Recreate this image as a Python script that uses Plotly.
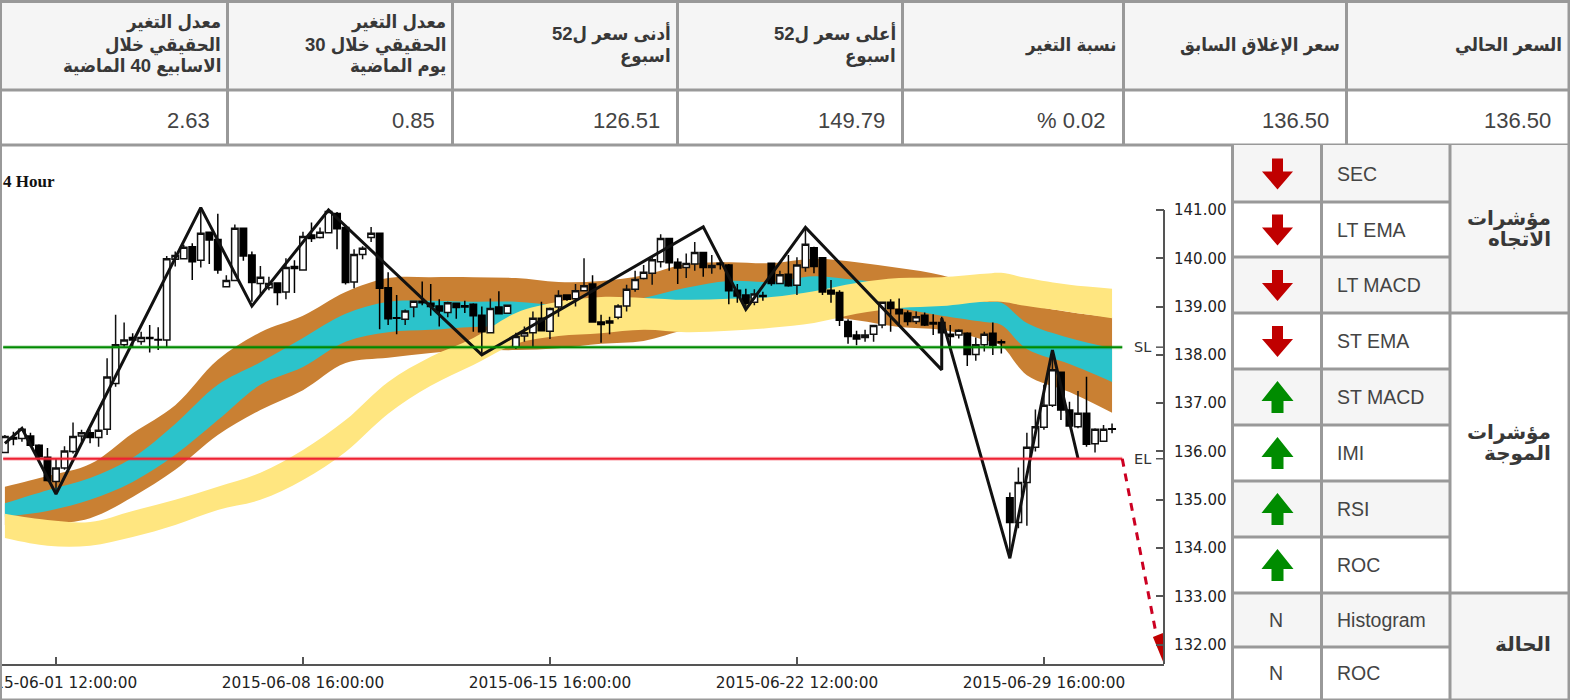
import plotly.graph_objects as go

# ---------- data ----------
header_lines = [
    ["معدل التغير", "الحقيقي خلال", "الاسابيع 40 الماضية"],
    ["معدل التغير", "الحقيقي خلال 30", "يوم الماضية"],
    ["أدنى سعر ل52", "اسبوع"],
    ["أعلى سعر ل52", "اسبوع"],
    ["نسبة التغير"],
    ["سعر الإغلاق السابق"],
    ["السعر الحالي"],
]
value_texts = ["2.63", "0.85", "126.51", "149.79", "% 0.02", "136.50", "136.50"]

indicator_names = ["SEC", "LT EMA", "LT MACD", "ST EMA", "ST MACD", "IMI", "RSI", "ROC", "Histogram", "ROC"]
indicator_states = ["down", "down", "down", "down", "up", "up", "up", "up", "N", "N"]
group_lines = [["مؤشرات", "الاتجاه"], ["مؤشرات", "الموجة"], ["الحالة"]]

opens = [135.98,136.29,136.27,136.32,136.13,135.88,135.38,135.66,136.00,136.32,
         136.39,136.29,136.46,137.41,138.21,138.36,138.28,138.36,138.32,138.31,
         139.98,139.99,140.24,139.96,140.54,140.39,139.41,139.54,140.62,140.07,
         139.48,139.39,139.49,139.30,139.83,139.76,140.48,140.43,140.53,140.93,
         140.64,139.51,140.08,140.43,140.52,139.39,138.77,138.74,138.99,139.11,
         139.07,139.01,138.88,139.07,139.02,139.05,138.82,138.46,138.99,138.86,
         138.16,138.39,138.46,138.76,138.49,138.99,139.24,139.16,139.33,139.47,
         138.68,138.70,138.78,139.01,139.36,139.58,139.69,139.93,140.41,139.92,
         139.81,139.88,140.12,139.81,139.90,139.86,139.34,139.24,139.09,139.23,
         139.90,139.48,139.67,139.44,139.81,140.22,140.01,139.34,139.29,138.69,
         138.41,138.36,138.43,138.62,139.09,138.94,138.87,138.69,138.82,138.67,
         138.67,138.43,138.41,138.45,138.01,138.21,138.45,138.27,135.04,134.53,
         135.36,136.09,136.50,136.96,137.64,136.86,136.51,136.79,136.16,136.21,136.47]
highs = [136.34,136.41,136.48,136.39,136.15,136.07,135.86,136.11,136.60,136.45,
         136.46,136.86,137.93,138.83,138.67,138.45,138.48,138.62,138.57,140.05,
         140.14,140.28,140.31,141.03,140.55,140.92,139.65,140.70,140.64,140.14,
         139.84,139.62,139.49,140.00,139.96,140.55,140.74,140.64,141.02,140.96,
         140.69,140.19,140.25,140.65,140.53,139.71,139.24,138.94,139.12,139.52,
         139.47,139.15,139.10,139.08,139.12,139.07,139.00,139.17,139.32,139.04,
         138.46,138.59,138.90,139.10,138.98,139.34,139.25,139.47,140.00,139.65,
         138.83,138.79,139.05,139.45,139.74,139.86,140.03,140.50,140.41,140.00,
         140.10,140.34,140.12,140.07,139.93,139.88,139.47,139.37,139.36,139.31,
         139.90,139.74,140.07,140.02,140.62,140.24,140.02,139.55,139.34,138.74,
         138.50,138.52,138.62,139.10,139.15,139.17,138.92,138.90,138.88,138.84,
         138.79,138.62,138.53,138.47,138.36,138.48,138.67,138.32,135.15,135.67,
         136.39,136.87,137.38,138.10,137.65,137.03,137.25,137.55,136.48,136.55,136.58]
lows = [135.98,136.13,136.20,136.10,135.82,135.38,135.14,135.62,135.96,136.20,
        136.17,136.10,136.34,137.34,138.17,138.17,138.21,138.05,138.10,138.16,
        139.83,139.98,139.55,139.81,139.88,139.68,139.40,139.54,139.95,139.10,
        139.21,139.34,139.03,139.15,139.28,139.74,140.34,140.41,140.52,140.19,
        139.46,139.38,139.98,140.34,138.53,138.62,138.43,138.62,138.78,139.03,
        138.81,138.59,138.78,138.75,138.87,138.48,138.00,138.45,138.85,138.85,
        138.12,138.27,138.16,138.50,138.33,138.79,139.12,139.00,139.32,138.67,
        138.25,138.43,138.74,138.90,139.31,139.56,139.45,139.81,139.74,139.47,
        139.59,139.74,139.62,139.68,139.77,139.05,139.08,139.00,139.03,139.12,
        139.43,139.47,139.41,139.24,139.72,139.69,139.24,139.08,138.60,138.23,
        138.20,138.27,138.27,138.55,138.48,138.62,138.61,138.64,138.60,138.41,
        138.41,138.17,138.34,137.77,137.88,138.07,138.00,138.03,133.85,134.41,
        134.46,136.00,136.45,136.92,136.65,136.51,136.48,136.10,135.98,136.20,136.38]
closes = [136.31,136.26,136.46,136.13,135.89,135.40,135.66,136.01,136.31,136.39,
          136.29,136.44,137.54,138.21,138.31,138.31,138.36,138.34,138.31,139.99,
          140.06,140.23,139.93,140.52,140.38,139.76,139.54,140.62,140.05,139.50,
          139.61,139.48,139.29,139.81,139.79,140.45,140.41,140.54,140.97,140.61,
          139.50,140.08,140.21,140.52,139.38,138.75,138.76,138.91,139.11,139.08,
          139.00,138.91,139.08,138.98,138.99,138.81,138.48,138.96,138.85,139.03,
          138.38,138.46,138.76,138.50,138.96,139.23,139.15,139.33,139.43,138.68,
          138.63,138.66,139.01,139.36,139.56,139.71,139.97,140.41,139.91,139.80,
          139.89,140.12,139.81,139.85,139.87,139.33,139.22,139.07,139.26,139.21,
          139.48,139.66,139.43,139.86,140.29,139.83,139.30,139.26,138.72,138.38,
          138.33,138.41,138.61,139.09,138.96,138.85,138.69,138.79,138.62,138.64,
          138.46,138.38,138.51,138.01,138.21,138.43,138.20,138.25,134.53,135.36,
          136.09,136.51,136.96,137.69,136.86,136.53,136.79,136.15,136.46,136.46,136.46]

band_index = [0,5,10,15,20,25,30,35,40,45,50,55,60,65,70,75,80,85,90,95,100,105,110,115,117,120,125,130]
brown_top = [135.27,135.49,135.74,136.38,136.96,137.90,138.47,138.81,139.30,139.59,139.61,139.61,139.59,139.51,
             139.53,139.65,139.88,139.92,139.90,139.99,139.92,139.80,139.65,139.34,139.22,139.05,138.89,138.78]
teal_top = [134.93,135.20,135.45,135.87,136.57,137.38,137.85,138.35,138.85,139.10,139.12,139.10,139.10,139.03,
            139.03,139.18,139.39,139.53,139.51,139.63,139.55,139.45,139.24,139.10,139.08,138.66,138.35,138.14]
teal_bottom = [134.65,134.77,135.00,135.37,135.93,136.65,137.38,137.75,138.27,138.47,138.52,138.58,138.60,138.72,
               138.89,138.93,138.93,138.97,139.01,139.14,139.18,138.97,138.81,138.68,138.62,138.12,137.81,137.44]
brown_bottom = [134.48,134.50,134.62,135.06,135.62,136.34,136.86,137.27,137.83,137.94,138.04,138.10,138.10,138.14,
                138.23,138.29,138.52,138.62,138.68,138.81,138.72,138.58,138.52,138.31,138.19,137.58,137.23,136.80]
yellow_top = [134.71,134.58,134.54,134.77,135.00,135.27,135.56,136.03,136.65,137.44,137.96,138.35,138.87,139.10,
              139.20,139.18,139.14,139.16,139.20,139.32,139.49,139.59,139.61,139.68,139.70,139.59,139.45,139.37]
yellow_bottom = [134.21,134.05,134.05,134.23,134.48,134.79,135.00,135.41,135.99,136.78,137.36,137.79,138.23,138.39,
                 138.45,138.52,138.47,138.50,138.56,138.66,138.85,138.97,139.01,139.10,139.10,139.01,138.89,138.76]

zigzag_index = [0,2,6,23,29,38,56,82,87,94,110,110,118,123,126]
zigzag_price = [136.17,136.48,135.12,141.05,139.01,141.00,138.00,140.65,138.94,140.64,137.69,138.76,133.79,138.10,135.86]

sl_value = 138.16
el_value = 135.85
level_index = [-0.2, 131.2]
target_index = [131.2, 135.2]
target_price = [135.85, 132.20]
head_index = [134.8, 136.1, 135.97, 134.8]
head_price = [132.16, 131.60, 132.24, 132.16]

tick_index = [6, 35, 64, 93, 122]
tick_dates = ["2015-06-01 12:00:00", "2015-06-08 16:00:00", "2015-06-15 16:00:00",
              "2015-06-22 12:00:00", "2015-06-29 16:00:00"]
price_ticks = [132, 133, 134, 135, 136, 137, 138, 139, 140, 141]

# ---------- page helpers ----------
W, H = 1570, 700
BORDER = "#999999"
GRAY = "#f5f5f5"
TEXT = "#444444"
DARK = "#383838"
FONT = "Liberation Sans, DejaVu Sans Condensed, DejaVu Sans"
GROUP_FONT = "Liberation Sans, DejaVu Sans"
px = lambda v: v / W
py = lambda v: 1 - v / H
shapes, annotations = [], []

def rect(x0, y0, x1, y1, color):
    shapes.append(dict(type="rect", xref="paper", yref="paper", x0=px(x0), x1=px(x1), y0=py(y0), y1=py(y1),
                       fillcolor=color, line=dict(width=0), layer="above"))

def hline(y, x0, x1, w=3):
    shapes.append(dict(type="line", xref="paper", yref="paper", x0=px(x0), x1=px(x1), y0=py(y), y1=py(y),
                       line=dict(color=BORDER, width=w), layer="above"))

def vline(x, y0, y1, w=3):
    shapes.append(dict(type="line", xref="paper", yref="paper", x0=px(x), x1=px(x), y0=py(y0), y1=py(y1),
                       line=dict(color=BORDER, width=w), layer="above"))

def text(x, y, s, size, anchor="right", bold=False, family=FONT, color=TEXT):
    annotations.append(dict(xref="paper", yref="paper", x=px(x), y=py(y), text=f"<b>{s}</b>" if bold else s,
                            showarrow=False, xanchor=anchor, yanchor="middle", align=anchor,
                            font=dict(family=family, size=size, color=color), borderpad=0, borderwidth=0))

def arrow(cx, cy, up):
    if up:
        pts = [(cx - 6, cy + 16), (cx - 6, cy + 4), (cx - 16, cy + 4), (cx, cy - 16), (cx + 16, cy + 4), (cx + 6, cy + 4), (cx + 6, cy + 16)]
        col = "#008c00"
    else:
        pts = [(cx - 5.5, cy - 15), (cx - 5.5, cy - 2), (cx - 15.5, cy - 2), (cx, cy + 16), (cx + 15.5, cy - 2), (cx + 5.5, cy - 2), (cx + 5.5, cy - 15)]
        col = "#c00000"
    path = "M " + " L ".join(f"{px(a):.5f},{py(b):.5f}" for a, b in pts) + " Z"
    shapes.append(dict(type="path", xref="paper", yref="paper", path=path, fillcolor=col, line=dict(width=0), layer="above"))

# top table
col_edges = [0.5, 227.5, 452.5, 677.5, 902.5, 1123.5, 1346.5, 1569]
rect(0, 2, W, 90, GRAY)
rect(0, 90, W, 145, "#ffffff")
for i, lines in enumerate(header_lines):
    right = col_edges[i + 1] - 7
    gap = 22
    start = 44.5 - gap * (len(lines) - 1) / 2
    for j, line in enumerate(lines):
        text(right, start + j * gap, line, 18.5, bold=True, color=DARK)
    text(col_edges[i + 1] - 18, 120, value_texts[i], 22)
for y in (1.5, 90, 145):
    hline(y, 0, W)
for x in col_edges:
    vline(x, 0, 145)

# side table
row_edges = [145, 202, 257, 313, 369, 425, 481, 537, 593, 647, 699]
side_x = [1232.5, 1321.5, 1450, 1569]
for r in range(10):
    if r % 2 == 0:
        rect(side_x[0], row_edges[r], side_x[2], row_edges[r + 1], GRAY)
    mid = (row_edges[r] + row_edges[r + 1]) / 2
    text(1337, mid, indicator_names[r], 19.5, anchor="left")
    state = indicator_states[r]
    if state == "N":
        text(1276, mid, state, 19.5, anchor="center")
    else:
        arrow(1277.5, mid, state == "up")
rect(side_x[2], row_edges[0], W, row_edges[3], GRAY)
rect(side_x[2], row_edges[8], W, row_edges[10], GRAY)
for lines, cy in zip(group_lines, (229, 443, 644)):
    start = cy - 10.5 * (len(lines) - 1)
    for j, line in enumerate(lines):
        text(1551, start + j * 21, line, 20, bold=True, family=GROUP_FONT, color=DARK)
for r in range(1, 10):
    hline(row_edges[r], side_x[0], side_x[2] if r not in (3, 8) else W)
for x in side_x:
    vline(x, 145, 700)
vline(0.5, 145, 700)
hline(699.5, 0, W, 2)

# chart decorations
axis_col = "#555555"
shapes.append(dict(type="line", xref="paper", yref="y", x0=px(1164), x1=px(1164), y0=141, y1=131.6,
                   line=dict(color=axis_col, width=2), layer="above"))
for v in (sl_value, el_value):
    shapes.append(dict(type="line", xref="paper", yref="y", x0=px(1156), x1=px(1164), y0=v, y1=v,
                       line=dict(color=axis_col, width=1.5), layer="above"))
for v, s in ((sl_value, "SL"), (el_value, "EL")):
    annotations.append(dict(xref="paper", yref="y", x=px(1153), y=v, text=s, showarrow=False, xanchor="right",
                            yanchor="middle", font=dict(family="DejaVu Sans", size=14.5, color="#333333")))
text(3, 181, "<b>4 Hour</b>", 17, anchor="left", family="Liberation Serif", color="#111111")

# ---------- traces ----------
fig = go.Figure()

def band(top, bottom, color):
    common = dict(x=band_index, mode="lines", line=dict(width=0, shape="spline", smoothing=1.0), hoverinfo="skip", yaxis="y")
    fig.add_trace(go.Scatter(y=top, **common))
    fig.add_trace(go.Scatter(y=bottom, fill="tonexty", fillcolor=color, **common))

band(brown_top, brown_bottom, "#c98033")
band(teal_top, teal_bottom, "#2bc3cb")
band(yellow_top, yellow_bottom, "#ffe680")

fig.add_trace(go.Candlestick(
    x=list(range(len(opens))), open=opens, high=highs, low=lows, close=closes, yaxis="y2",
    increasing=dict(line=dict(color="#111111", width=1.5), fillcolor="#ffffff"),
    decreasing=dict(line=dict(color="#000000", width=1.5), fillcolor="#000000"),
    whiskerwidth=0, hoverinfo="skip"))

fig.add_trace(go.Scatter(x=zigzag_index, y=zigzag_price, mode="lines", yaxis="y2",
                         line=dict(color="#111111", width=3), hoverinfo="skip"))
for v, core, halo in ((sl_value, "#008a00", "rgba(0,138,0,0.25)"), (el_value, "#ee2233", "rgba(238,34,51,0.3)")):
    fig.add_trace(go.Scatter(x=level_index, y=[v, v], mode="lines", yaxis="y2", line=dict(color=halo, width=4), hoverinfo="skip"))
    fig.add_trace(go.Scatter(x=level_index, y=[v, v], mode="lines", yaxis="y2", line=dict(color=core, width=2), hoverinfo="skip"))
fig.add_trace(go.Scatter(x=target_index, y=target_price, mode="lines", yaxis="y2",
                         line=dict(color="#cc0022", width=3, dash="8px,7px"), hoverinfo="skip"))
fig.add_trace(go.Scatter(x=head_index, y=head_price, mode="lines", yaxis="y2", fill="toself", fillcolor="#c00000",
                         line=dict(color="#c00000", width=0), hoverinfo="skip"))

y_range = [131.60, 142.346]
fig.update_layout(
    width=W, height=H, margin=dict(l=0, r=0, t=0, b=0), paper_bgcolor="#ffffff", plot_bgcolor="#ffffff",
    showlegend=False, hovermode=False, shapes=shapes, annotations=annotations, boxgap=0.05, boxgroupgap=0.2,
    xaxis=dict(domain=[0, px(1164)], range=[-0.575, 136.1], tickmode="array", tickvals=tick_index, ticktext=tick_dates,
               showgrid=False, zeroline=False, showline=True, linecolor=axis_col, linewidth=1.5, automargin=False,
               ticks="inside", ticklen=7, tickcolor=axis_col, tickwidth=1.5, ticklabelstandoff=4,
               ticklabeloverflow="allow", tickfont=dict(family="DejaVu Sans", size=15.3, color="#222222"),
               rangeslider=dict(visible=False)),
    yaxis=dict(domain=[py(664), py(145)], range=y_range, side="right", tickmode="array", tickvals=price_ticks,
               tickformat=".2f", showgrid=False, zeroline=False, showline=False, automargin=False,
               ticks="inside", ticklen=8, tickcolor=axis_col, tickwidth=1.5, ticklabelstandoff=9,
               tickfont=dict(family="DejaVu Sans", size=15, color="#222222")),
    yaxis2=dict(overlaying="y", range=y_range, visible=False, side="right", automargin=False),
)

fig.write_html("out.html", config=dict(displayModeBar=False),
               post_script="document.body.style.margin='0';document.body.style.overflow='hidden';")
